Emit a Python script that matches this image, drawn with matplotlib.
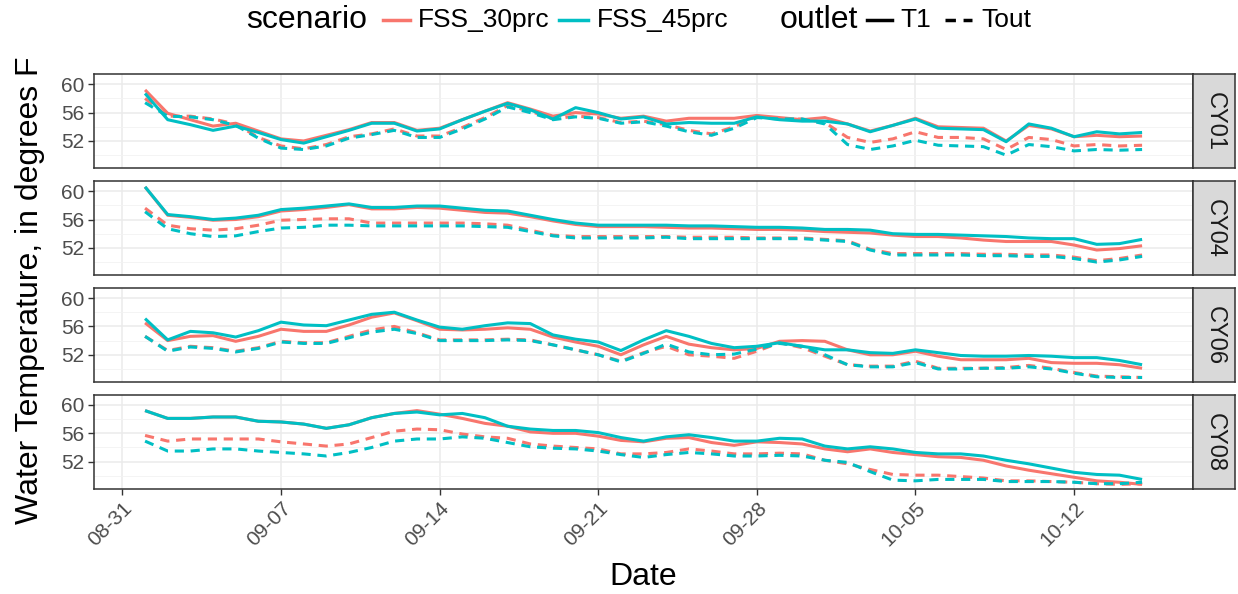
import matplotlib
matplotlib.use("Agg")
import matplotlib.pyplot as plt
import matplotlib.dates as mdates
from matplotlib.lines import Line2D
import pandas as pd

plt.rcParams['font.family'] = ['Liberation Sans', 'DejaVu Sans']

dates = pd.date_range('2016-09-01', periods=45, freq='D')

sites = ['CY01', 'CY04', 'CY06', 'CY08']
scenarios = ['FSS_30prc', 'FSS_45prc']
outlets = ['T1', 'Tout']

# CY01
cy01_30_t1 = [59.2, 55.9, 55.0, 54.1, 54.5, 53.4, 52.3, 52.0, 52.8, 53.6, 54.6, 54.6, 53.5, 53.8, 55.0,
              56.2, 57.4, 56.5, 55.5, 56.0, 55.8, 55.2, 55.5, 54.8, 55.2, 55.2, 55.2, 55.6, 55.3, 55.0,
              55.3, 54.4, 53.4, 54.2, 55.2, 54.0, 53.9, 53.8, 52.0, 54.2, 53.7, 52.6, 52.8, 52.6, 52.7]
cy01_45_t1 = [58.7, 55.0, 54.3, 53.5, 54.1, 53.2, 52.2, 51.7, 52.6, 53.5, 54.5, 54.5, 53.4, 53.7, 55.0,
              56.2, 57.3, 56.4, 55.1, 56.7, 56.0, 55.1, 55.4, 54.4, 54.6, 54.5, 54.5, 55.4, 55.0, 54.8,
              54.8, 54.4, 53.3, 54.2, 55.1, 53.8, 53.7, 53.6, 51.9, 54.4, 53.8, 52.6, 53.3, 53.0, 53.2]
cy01_30_tout = [58.0, 55.5, 55.5, 55.1, 54.4, 52.5, 51.3, 50.9, 51.5, 52.6, 53.0, 53.7, 52.7, 52.7, 53.9,
                55.3, 57.0, 56.2, 55.1, 55.5, 55.3, 54.6, 54.8, 54.3, 53.5, 53.0, 54.0, 55.5, 55.1, 55.1,
                54.6, 52.5, 51.8, 52.3, 53.3, 52.5, 52.5, 52.3, 50.8, 52.5, 52.2, 51.3, 51.5, 51.3, 51.4]
cy01_45_tout = [57.4, 55.5, 55.4, 55.0, 54.2, 52.4, 51.0, 50.8, 51.3, 52.4, 52.9, 53.5, 52.5, 52.5, 53.7,
                55.1, 56.8, 56.0, 55.0, 55.4, 55.2, 54.5, 54.7, 54.1, 53.3, 52.8, 53.8, 55.3, 55.1, 55.1,
                54.4, 51.5, 50.8, 51.3, 52.1, 51.4, 51.3, 51.2, 50.0, 51.5, 51.2, 50.6, 50.8, 50.7, 50.8]

# CY04
cy04_30_t1 = [60.6, 56.6, 56.3, 55.9, 56.0, 56.4, 57.2, 57.4, 57.7, 58.1, 57.5, 57.5, 57.7, 57.6, 57.3,
              57.0, 56.9, 56.4, 55.8, 55.3, 55.0, 55.0, 55.0, 54.9, 54.8, 54.8, 54.7, 54.6, 54.6, 54.5,
              54.3, 54.2, 54.1, 53.8, 53.6, 53.6, 53.4, 53.1, 52.9, 52.9, 52.9, 52.4, 51.7, 51.9, 52.3]
cy04_45_t1 = [60.6, 56.7, 56.4, 56.0, 56.2, 56.6, 57.4, 57.6, 57.9, 58.2, 57.7, 57.7, 57.9, 57.9, 57.6,
              57.3, 57.2, 56.6, 56.0, 55.5, 55.2, 55.2, 55.2, 55.2, 55.1, 55.1, 55.0, 54.9, 54.9, 54.8,
              54.6, 54.6, 54.5, 54.0, 53.9, 53.9, 53.8, 53.7, 53.6, 53.4, 53.3, 53.3, 52.5, 52.6, 53.2]
cy04_30_tout = [57.6, 55.2, 54.7, 54.5, 54.7, 55.2, 55.9, 56.0, 56.1, 56.1, 55.5, 55.5, 55.5, 55.5, 55.5,
                55.4, 55.2, 54.5, 53.8, 53.6, 53.6, 53.6, 53.6, 53.6, 53.5, 53.5, 53.5, 53.4, 53.4, 53.4,
                53.2, 53.0, 51.8, 51.2, 51.2, 51.2, 51.2, 51.1, 51.1, 51.0, 51.0, 50.7, 50.2, 50.5, 51.0]
cy04_45_tout = [57.1, 54.7, 54.0, 53.6, 53.7, 54.3, 54.8, 54.9, 55.2, 55.2, 55.1, 55.1, 55.1, 55.1, 55.1,
                55.0, 54.9, 54.3, 53.7, 53.4, 53.4, 53.4, 53.4, 53.5, 53.3, 53.3, 53.3, 53.3, 53.3, 53.3,
                53.1, 52.9, 51.7, 51.0, 51.0, 51.0, 51.0, 50.9, 50.9, 50.8, 50.8, 50.5, 50.0, 50.3, 50.8]

# CY06
cy06_30_t1 = [56.5, 54.0, 54.6, 54.7, 53.9, 54.6, 55.6, 55.3, 55.3, 56.2, 57.3, 57.9, 56.8, 55.6, 55.5,
              55.6, 55.8, 55.6, 54.5, 53.8, 53.2, 52.0, 53.4, 54.6, 53.5, 53.0, 52.7, 52.9, 53.9, 54.0,
              53.9, 52.7, 52.0, 52.0, 52.5, 51.8, 51.3, 51.3, 51.3, 51.5, 50.9, 50.8, 50.8, 50.6, 50.1]
cy06_45_t1 = [57.1, 54.1, 55.3, 55.1, 54.5, 55.4, 56.6, 56.2, 56.1, 56.9, 57.7, 58.0, 56.9, 55.9, 55.6,
              56.1, 56.5, 56.4, 54.8, 54.2, 53.8, 52.6, 54.1, 55.4, 54.6, 53.6, 53.0, 53.2, 53.7, 53.2,
              52.7, 52.7, 52.3, 52.2, 52.7, 52.3, 51.9, 51.8, 51.8, 51.9, 51.8, 51.6, 51.6, 51.2, 50.6]
cy06_30_tout = [54.6, 52.6, 53.2, 53.0, 52.5, 53.0, 53.9, 53.7, 53.7, 54.6, 55.5, 56.0, 55.1, 54.1, 54.1,
                54.1, 54.2, 54.1, 53.4, 52.7, 52.0, 51.1, 52.3, 53.2, 52.0, 51.8, 51.5, 52.5, 53.7, 53.0,
                51.8, 50.6, 50.4, 50.4, 51.1, 50.1, 50.1, 50.1, 50.2, 50.5, 50.1, 49.5, 49.0, 48.9, 48.8]
cy06_45_tout = [54.6, 52.5, 53.1, 52.9, 52.4, 52.9, 53.8, 53.6, 53.6, 54.4, 55.2, 55.6, 55.0, 54.0, 54.0,
                54.0, 54.1, 54.0, 53.4, 52.7, 52.0, 51.0, 52.2, 53.5, 52.4, 52.0, 52.1, 52.8, 53.6, 53.2,
                52.0, 50.6, 50.3, 50.3, 50.9, 50.0, 50.0, 50.1, 50.1, 50.3, 50.0, 49.4, 48.9, 48.8, 48.8]

# CY08
cy08_30_t1 = [59.2, 58.1, 58.1, 58.3, 58.3, 57.7, 57.6, 57.3, 56.7, 57.2, 58.2, 58.8, 59.2, 58.7, 58.1,
              57.4, 57.0, 56.2, 56.0, 56.0, 55.6, 55.0, 54.8, 55.3, 55.4, 54.7, 54.3, 54.8, 54.7, 54.5,
              53.8, 53.4, 53.8, 53.3, 53.0, 52.7, 52.6, 52.2, 51.4, 50.8, 50.3, 49.8, 49.3, 49.1, 48.8]
cy08_45_t1 = [59.2, 58.1, 58.1, 58.3, 58.3, 57.7, 57.6, 57.3, 56.7, 57.2, 58.2, 58.8, 59.0, 58.6, 58.8,
              58.2, 57.0, 56.6, 56.4, 56.4, 56.1, 55.4, 54.9, 55.5, 55.8, 55.4, 54.9, 54.9, 55.3, 55.2,
              54.2, 53.8, 54.1, 53.8, 53.3, 53.1, 53.1, 52.8, 52.2, 51.7, 51.1, 50.5, 50.2, 50.1, 49.5]
cy08_30_tout = [55.7, 54.9, 55.2, 55.2, 55.2, 55.2, 54.8, 54.5, 54.2, 54.5, 55.4, 56.3, 56.6, 56.5, 55.9,
                55.5, 55.3, 54.5, 54.2, 54.0, 53.8, 53.1, 53.1, 53.3, 53.8, 53.5, 53.1, 53.1, 53.2, 53.1,
                52.2, 51.7, 50.9, 50.2, 50.1, 50.1, 49.9, 49.7, 49.3, 49.3, 49.2, 49.1, 48.9, 48.8, 48.9]
cy08_45_tout = [54.9, 53.5, 53.5, 53.8, 53.8, 53.5, 53.3, 53.1, 52.8, 53.3, 54.0, 54.9, 55.2, 55.2, 55.5,
                55.3, 54.7, 54.1, 53.9, 53.8, 53.5, 53.0, 52.6, 53.0, 53.3, 53.1, 52.8, 52.8, 52.9, 52.8,
                52.2, 51.9, 50.6, 49.4, 49.3, 49.5, 49.5, 49.5, 49.2, 49.2, 49.2, 49.1, 48.9, 48.9, 49.1]

temps = {
    'CY01': {('FSS_30prc', 'T1'): cy01_30_t1, ('FSS_45prc', 'T1'): cy01_45_t1,
             ('FSS_30prc', 'Tout'): cy01_30_tout, ('FSS_45prc', 'Tout'): cy01_45_tout},
    'CY04': {('FSS_30prc', 'T1'): cy04_30_t1, ('FSS_45prc', 'T1'): cy04_45_t1,
             ('FSS_30prc', 'Tout'): cy04_30_tout, ('FSS_45prc', 'Tout'): cy04_45_tout},
    'CY06': {('FSS_30prc', 'T1'): cy06_30_t1, ('FSS_45prc', 'T1'): cy06_45_t1,
             ('FSS_30prc', 'Tout'): cy06_30_tout, ('FSS_45prc', 'Tout'): cy06_45_tout},
    'CY08': {('FSS_30prc', 'T1'): cy08_30_t1, ('FSS_45prc', 'T1'): cy08_45_t1,
             ('FSS_30prc', 'Tout'): cy08_30_tout, ('FSS_45prc', 'Tout'): cy08_45_tout},
}

colors = {'FSS_30prc': '#F8766D', 'FSS_45prc': '#00BFC4'}
dash_styles = {'T1': None, 'Tout': (3, 2.2)}

W, H = 1238, 594
fig = plt.figure(figsize=(W / 100, H / 100), dpi=100)

left_px, right_px = 94.3, 1193.3
strip_w = 42
panel_h = 94
first_top = 74.3
step = 106.9

x_lo = dates[0] - pd.Timedelta(days=2.24)
x_hi = dates[-1] + pd.Timedelta(days=2.26)
week_ticks = pd.date_range('2016-08-31', '2016-10-12', freq='7D')

for k, site in enumerate(sites):
    top = first_top + k * step
    rect = [left_px / W, 1 - (top + panel_h) / H, (right_px - left_px) / W, panel_h / H]
    ax = fig.add_axes(rect)

    for scen in scenarios:
        for out in outlets:
            line, = ax.plot(dates, temps[site][(scen, out)], color=colors[scen], lw=2.2,
                            solid_capstyle='butt')
            if dash_styles[out] is not None:
                line.set_dashes(dash_styles[out])

    ax.set_xlim(x_lo, x_hi)
    ax.set_ylim(48.15, 61.4)
    ax.set_yticks([52, 56, 60])
    ax.set_yticks([50, 54, 58], minor=True)
    ax.set_xticks(week_ticks)
    ax.grid(which='major', color='#EBEBEB', lw=1.1)
    ax.grid(which='minor', axis='y', color='#F2F2F2', lw=0.6)
    ax.set_axisbelow(True)
    for sp in ax.spines.values():
        sp.set_color('#333333')
        sp.set_linewidth(1.1)
    ax.tick_params(axis='y', which='major', length=4, width=1, color='#333333',
                   labelcolor='#4D4D4D', labelsize=15, pad=3)
    ax.tick_params(axis='y', which='minor', length=0)

    if k == len(sites) - 1:
        ax.xaxis.set_major_formatter(mdates.DateFormatter('%m-%d'))
        ax.tick_params(axis='x', length=4, width=1, color='#333333',
                       labelcolor='#4D4D4D', labelsize=15, pad=3)
        for lab in ax.get_xticklabels():
            lab.set_rotation(45)
            lab.set_ha('right')
            lab.set_rotation_mode('anchor')
    else:
        ax.tick_params(axis='x', length=0, labelbottom=False)

    # facet strip on the right
    sax = fig.add_axes([right_px / W, rect[1], strip_w / W, rect[3]])
    sax.set_facecolor('#D9D9D9')
    sax.set_xticks([])
    sax.set_yticks([])
    for sp in sax.spines.values():
        sp.set_color('#333333')
        sp.set_linewidth(1.1)
    sax.text(0.5, 0.5, site, rotation=-90, ha='center', va='center',
             fontsize=17, color='#1A1A1A', transform=sax.transAxes)

fig.text(30 / W, 1 - 290 / H, 'Water Temperature, in degrees F', rotation=90,
         ha='center', va='center', fontsize=23)
fig.text(643 / W, 1 - 577 / H, 'Date', ha='center', va='center', fontsize=23)

# legend row across the top
ly = 1 - 20 / H
fig.text(246 / W, ly, 'scenario', ha='left', va='center', fontsize=23)
fig.add_artist(Line2D([383 / W, 410 / W], [ly, ly], color=colors['FSS_30prc'], lw=2.5))
fig.text(418 / W, ly, 'FSS_30prc', ha='left', va='center', fontsize=19)
fig.add_artist(Line2D([559 / W, 588 / W], [ly, ly], color=colors['FSS_45prc'], lw=2.5))
fig.text(597 / W, ly, 'FSS_45prc', ha='left', va='center', fontsize=19)
fig.text(780 / W, ly, 'outlet', ha='left', va='center', fontsize=23)
fig.add_artist(Line2D([867 / W, 892 / W], [ly, ly], color='black', lw=2.5))
fig.text(900 / W, ly, 'T1', ha='left', va='center', fontsize=19)
fig.add_artist(Line2D([945 / W, 972 / W], [ly, ly], color='black', lw=2.5, dashes=(3, 2.2)))
fig.text(981 / W, ly, 'Tout', ha='left', va='center', fontsize=19)

fig.savefig('out.png', dpi=100, facecolor='white')
